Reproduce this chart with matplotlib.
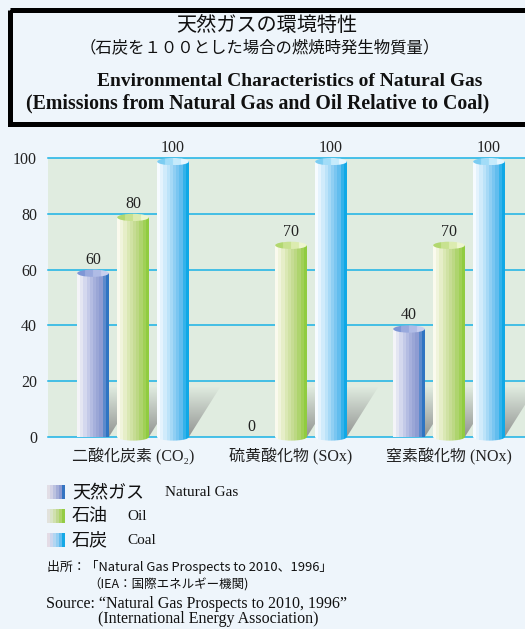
import numpy as np
import matplotlib
matplotlib.use("Agg")
import matplotlib.pyplot as plt
from matplotlib.colors import ListedColormap
from matplotlib.patches import Rectangle, Ellipse, Polygon

# data
categories = ["二酸化炭素 (CO₂)", "硫黄酸化物 (SOx)", "窒素酸化物 (NOx)"]
gas = [60, 0, 40]
oil = [80, 70, 70]
coal = [100, 100, 100]
yticks = [0, 20, 40, 60, 80, 100]

series_jp = ["天然ガス", "石油", "石炭"]
series_en = ["Natural Gas", "Oil", "Coal"]

BG = "#eef5fb"
PLOT_BG = "#e0ece0"
GRID = "#19b2e6"
JP = "Noto Sans CJK JP"
SERIF = "Liberation Serif"

# stripe colours for the cylinder look
gas_cols = ["#f4f4f8", "#e4e6f2", "#d4d8ee", "#c4cae8", "#b4bce2", "#a6b0dc",
            "#9aa6d6", "#8e9cd2", "#5c8acc", "#2f74c2"]
oil_cols = ["#fafaee", "#f0f4dc", "#e6eec8", "#dae8b4", "#d0e2a4", "#c6dc94",
            "#bcd884", "#aed46e", "#a0d056", "#90cc40"]
coal_cols = ["#f6fbff", "#e4f3fd", "#d0ebfb", "#bce3f9", "#a6d9f6", "#90cff3",
             "#7ac6f1", "#62bdee", "#34b2ea", "#10a8e6"]
gas_top = ["#c8cfee", "#b0bce6", "#9aaade", "#7e96d6"]
oil_top = ["#eef6d0", "#dcecb0", "#c8e290", "#b2d870"]
coal_top = ["#e6f6ff", "#c6ebfc", "#a2ddf8", "#7ccdf2"]
leg_cols = [
    ["#e2dee6", "#d2d2e6", "#bcc2e0", "#a4aed8", "#8c9ad0", "#3474c2"],
    ["#e2e2dc", "#dae4c8", "#d0e0ae", "#c0d890", "#aed46a", "#94cc44"],
    ["#e4dce6", "#ccd6ee", "#b2d6f2", "#94cef2", "#62bcee", "#14a8e6"],
]

W = 0.2        # bar width
OFF = 0.253    # bar offset inside a group
E = 2.6        # ellipse height (data units)
SH_X, SH_H = 0.2, 18   # shadow shear and height

fig = plt.figure(figsize=(5.25, 6.29), dpi=100, facecolor=BG)

px_per = 279 / 100
bottom_px = 437 + 2 * px_per
ax = fig.add_axes([48 / 525, 1 - bottom_px / 629, 477 / 525, (bottom_px - 158) / 629])
ax.patch.set_visible(False)
ax.set_xlim(-0.538, 2.481)
ax.set_ylim(-2, 100)
for s in ax.spines.values():
    s.set_visible(False)
ax.axhspan(0, 100, color=PLOT_BG, zorder=0, lw=0)
for v in yticks:
    ax.axhline(v, color=GRID, lw=1.1, zorder=0.5, clip_on=False)


def shadow(xl, xr):
    grad = np.zeros((100, 1, 4))
    grad[..., :3] = 0.52
    grad[:, 0, 3] = np.linspace(0.85, 0.0, 100)
    im = ax.imshow(grad, origin="lower", aspect="auto", zorder=2,
                   extent=[xl, xr + SH_X, 0, SH_H])
    poly = Polygon([(xl, 0), (xr, 0), (xr + SH_X, SH_H), (xl + SH_X, SH_H)],
                   transform=ax.transData)
    im.set_clip_path(poly)


def cylinder(xc, h, cols, top, round_bottom=True):
    if h <= 0:
        return
    xl, xr = xc - W / 2, xc + W / 2
    grad = np.linspace(0, 1, 200).reshape(1, -1)
    cmap = ListedColormap(cols)
    body_top = h - E / 2
    shadow(xl, xr)
    ax.imshow(grad, cmap=cmap, aspect="auto", zorder=3, interpolation="nearest",
              extent=[xl, xr, 0, body_top])
    if round_bottom:
        im = ax.imshow(grad, cmap=cmap, aspect="auto", zorder=3,
                       interpolation="nearest", extent=[xl, xr, -E / 2, 0.1])
        im.set_clip_path(Ellipse((xc, 0), W, E, transform=ax.transData))
    im = ax.imshow(grad[:, ::-1], cmap=ListedColormap(top), aspect="auto",
                   zorder=4, extent=[xl, xr, body_top - E / 2, body_top + E / 2])
    im.set_clip_path(Ellipse((xc, body_top), W, E, transform=ax.transData))


x = np.arange(len(categories))
for vals, cols, top, off, rb in [(gas, gas_cols, gas_top, -OFF, False),
                                  (oil, oil_cols, oil_top, 0, True),
                                  (coal, coal_cols, coal_top, OFF, True)]:
    for xi, v in zip(x, vals):
        cylinder(xi + off, v, cols, top, rb)
        ax.annotate(str(v), (xi + off, v), xytext=(0, 1.5), textcoords="offset points",
                    ha="center", va="bottom", fontfamily=SERIF, fontsize=11.5,
                    color="#222222", annotation_clip=False)

ax.set_yticks(yticks)
ax.set_yticklabels([str(t) for t in yticks], fontfamily=SERIF, fontsize=11.5,
                   color="#222222")
ax.set_xticks(x)
ax.set_xticklabels(categories, family=[SERIF, JP], fontsize=11.5, color="#222222")
ax.tick_params(axis="y", length=0, pad=8)
ax.tick_params(axis="x", length=0, pad=4)

# overlay in pixel coordinates for the title box, legend and source
oax = fig.add_axes([0, 0, 1, 1], zorder=-1)
oax.set_xlim(0, 525)
oax.set_ylim(629, 0)
oax.axis("off")

oax.add_patch(Rectangle((9.5, 9.5), 540, 114, fill=False, lw=3.6, ec="black"))
oax.text(267, 25, "天然ガスの環境特性", ha="center", va="center", fontfamily=JP,
         fontsize=14.5, color="#111111")
oax.text(260, 48, "（石炭を１００とした場合の燃焼時発生物質量）", ha="center", va="center",
         fontfamily=JP, fontsize=11.8, color="#111111")
oax.text(290, 82, "Environmental Characteristics of Natural Gas", ha="center",
         va="center", fontfamily=SERIF, fontweight="bold", fontsize=14, color="#111111")
oax.text(258, 103, "(Emissions from Natural Gas and Oil Relative to Coal)", ha="center",
         va="center", fontfamily=SERIF, fontweight="bold", fontsize=14.3, color="#111111")

leg_y = [492, 516, 540]
en_x = [165, 127, 127]
for i in range(3):
    sw = np.linspace(0, 1, 60).reshape(1, -1)
    oax.imshow(sw, cmap=ListedColormap(leg_cols[i]), aspect="auto",
               interpolation="nearest",
               extent=[47, 65, leg_y[i] + 7, leg_y[i] - 7])
    oax.text(72, leg_y[i], series_jp[i], va="center", fontfamily=JP, fontsize=13,
             color="#111111")
    oax.text(en_x[i], leg_y[i] + 1, series_en[i], va="center", fontfamily=SERIF,
             fontsize=11, color="#111111")
oax.set_xlim(0, 525)
oax.set_ylim(629, 0)

oax.text(47, 567, "出所：「Natural Gas Prospects to 2010、1996」", va="center",
         fontfamily=JP, fontsize=9.3, color="#111111")
oax.text(88, 585, "（IEA：国際エネルギー機関)", va="center", fontfamily=JP,
         fontsize=9, color="#111111")
oax.text(46, 604, "Source: “Natural Gas Prospects to 2010, 1996”", va="center",
         fontfamily=SERIF, fontsize=11.5, color="#111111")
oax.text(98, 623, "(International Energy Association)", va="baseline",
         fontfamily=SERIF, fontsize=11.5, color="#111111")

fig.savefig("out.png", dpi=100, facecolor=BG)
